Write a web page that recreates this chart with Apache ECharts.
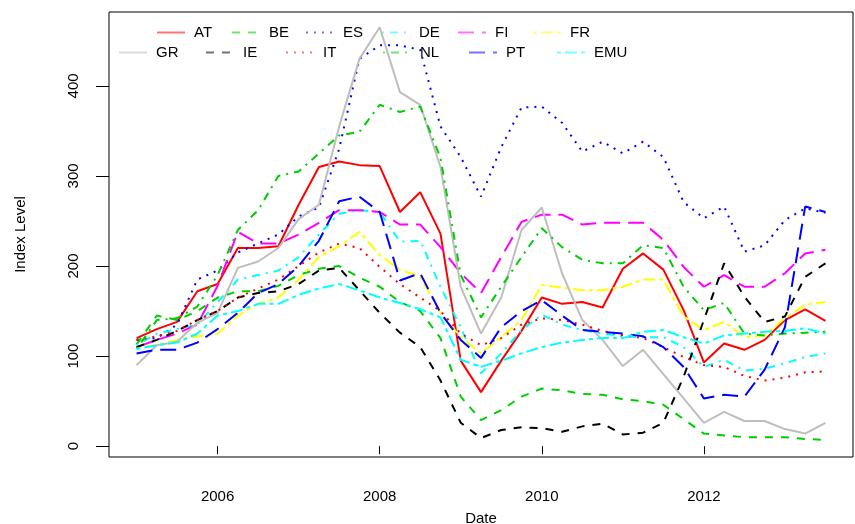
<!DOCTYPE html>
<html>
<head>
<meta charset="utf-8">
<script src="https://cdn.jsdelivr.net/npm/echarts@6/dist/echarts.min.js"></script>
<style>
  html, body { margin: 0; padding: 0; background: #fff; }
  #main { width: 855px; height: 524px; }
</style>
</head>
<body>
<div id="main"></div>
<script>
// quarterly index levels, 2005Q1 .. 2013Q3
const startYear = 2005;
const AT = [120,130,138,172,180,220,220,222,268,310,316,312,311,260,282,236,95,60,95,128,165,158,160,154,197,214,196,151,93,114,107,118,140,152,139];
const BE = [113,145,140,150,165,172,172,178,190,197,200,187,177,160,150,120,55,29,40,55,64,62,58,57,52,50,46,30,14,12,10,10,10,8,7];
const ES = [118,120,135,185,195,215,225,235,255,265,330,430,445,445,440,355,321,277,332,376,377,359,327,338,325,338,321,271,253,266,216,223,251,264,259];
const DE = [112,125,130,135,160,185,190,195,210,235,258,262,260,227,228,177,132,81,103,129,146,135,129,125,122,121,121,110,88,96,84,86,92,99,103];
const FI = [110,118,125,135,178,238,225,225,235,248,262,262,260,246,246,221,192,170,210,249,257,257,246,248,248,248,229,199,177,190,177,177,192,214,218];
const FR = [110,112,118,122,125,145,158,165,185,210,222,238,212,196,188,148,121,103,121,140,179,176,173,173,177,185,185,144,129,138,121,123,142,157,160];
const GR = [90,112,116,137,148,198,205,220,252,268,355,430,465,393,379,310,177,125,165,240,265,192,140,118,89,107,80,53,26,38,28,28,19,14,26];
const IE = [110,118,128,140,150,165,170,172,180,195,198,173,148,126,110,73,26,9,18,21,20,16,22,25,13,15,26,77,140,203,166,138,144,188,203];
const IT = [118,122,128,140,150,165,175,185,200,215,225,220,199,180,165,150,125,112,120,135,142,140,135,128,123,120,110,99,90,88,78,73,76,82,83];
const NL = [108,140,142,155,190,240,262,300,305,325,345,349,379,371,377,320,190,143,177,210,242,221,207,203,203,223,220,177,151,159,125,123,125,126,127];
const PT = [103,107,107,115,130,148,170,180,200,228,272,277,260,184,192,148,118,98,132,150,162,145,129,127,125,122,110,88,53,57,55,85,132,266,260];
const EMU = [108,112,115,125,145,150,158,158,168,175,180,173,165,159,152,143,96,88,95,103,110,115,118,120,120,127,129,121,114,123,125,127,128,131,125];

const names = ["AT","BE","ES","DE","FI","FR","GR","IE","IT","NL","PT","EMU"];
const values = [AT,BE,ES,DE,FI,FR,GR,IE,IT,NL,PT,EMU];
const xTicks = [2006, 2008, 2010, 2012];
const yTicks = [0, 100, 200, 300, 400];

const colors = ["#ff0000","#00cd00","#0000ff","#00ffff","#ff00ff","#ffff00",
                "#bebebe","#000000","#ff0000","#00cd00","#0000ff","#00ffff"];
const solid = "solid";
const dashed = [8, 8];
const dotted = [2, 6];
const dotdash = [2, 6, 8, 6];
const longdash = [16, 8];
const twodash = [4, 4, 12, 4];
const dashes = [solid, dashed, dotted, dotdash, longdash, twodash,
                solid, dashed, dotted, dotdash, longdash, twodash];

// legend positions (line start x, row y)
const legendLeft = [151,226,300,376,452,527, 113,200,280,377,463,551];
const legendTop = [20,20,20,20,20,20, 40,40,40,40,40,40];

const font = "Liberation Sans, Arial, sans-serif";

const series = names.map(function (n, k) {
  return {
    name: n,
    type: "line",
    symbol: "none",
    animation: false,
    lineStyle: { color: colors[k], width: 2, type: dashes[k] },
    itemStyle: { color: colors[k] },
    data: values[k].map(function (v, i) { return [startYear + i * 0.25, v]; }),
  };
});

const legends = names.map(function (n, k) {
  return {
    data: [n],
    left: legendLeft[k],
    top: legendTop[k],
    itemWidth: 28,
    itemHeight: 14,
    itemGap: 10,
    selectedMode: false,
    textStyle: { fontFamily: font, fontSize: 15, color: "#000", padding: [0, 0, 0, 4] },
    itemStyle: { opacity: 0 },
    lineStyle: { opacity: 0.55, width: 2 },
  };
});

option = {
  backgroundColor: "#fff",
  animation: false,
  legend: legends,
  grid: {
    left: 109, right: 2, top: 12, bottom: 67,
    outerBoundsMode: "none",
    show: true, borderColor: "#000", borderWidth: 1,
  },
  xAxis: {
    type: "value",
    min: 2004.66,
    max: 2013.84,
    name: "Date",
    nameLocation: "middle",
    nameGap: 54,
    nameTextStyle: { fontFamily: font, fontSize: 15, color: "#000" },
    splitLine: { show: false },
    axisLine: { show: false },
    axisTick: { show: true, customValues: xTicks, length: 8, inside: false, lineStyle: { color: "#000" } },
    axisLabel: { customValues: xTicks, margin: 32, fontFamily: font, fontSize: 15, color: "#000",
                 formatter: function (v) { return String(v); } },
  },
  yAxis: {
    type: "value",
    min: -12,
    max: 482,
    name: "Index Level",
    nameLocation: "middle",
    nameGap: 81,
    nameRotate: 90,
    nameTextStyle: { fontFamily: font, fontSize: 15, color: "#000" },
    splitLine: { show: false },
    axisLine: { show: false },
    axisTick: { show: true, customValues: yTicks, length: 13, lineStyle: { color: "#000" } },
    axisLabel: { customValues: yTicks, rotate: 90, margin: 35, fontFamily: font, fontSize: 15, color: "#000", verticalAlign: "middle", align: "center" },
  },
  series: series,
};

var chart = echarts.init(document.getElementById("main"));
chart.setOption(option);
</script>
</body>
</html>
